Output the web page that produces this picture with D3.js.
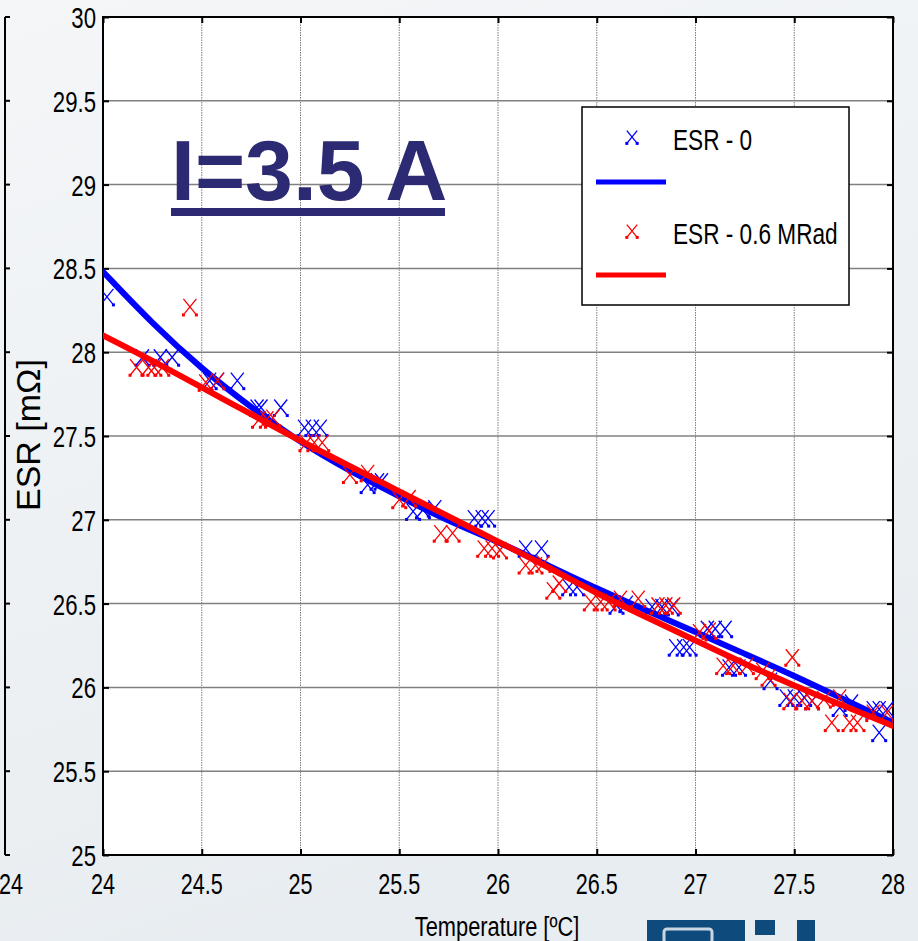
<!DOCTYPE html>
<html>
<head>
<meta charset="utf-8">
<script src="https://cdn.jsdelivr.net/npm/d3@7"></script>
<style>
  body { margin: 0; background: #eef2f5; }
  svg { display: block; }
</style>
</head>
<body>
<svg width="918" height="941"></svg>
<script>
// fitted curves (read at 0.25 degC steps)
const fitTemp  = [24, 24.25, 24.5, 24.75, 25, 25.25, 25.5, 25.75, 26, 26.25, 26.5, 26.75, 27, 27.25, 27.5, 27.75, 28];
const fitEsr0  = [28.48, 28.17, 27.90, 27.67, 27.46, 27.29, 27.14, 26.99, 26.87, 26.73, 26.59, 26.46, 26.33, 26.20, 26.07, 25.93, 25.79];
const fitEsr06 = [28.10, 27.95, 27.79, 27.63, 27.47, 27.32, 27.17, 27.02, 26.87, 26.72, 26.56, 26.42, 26.28, 26.14, 26.01, 25.89, 25.77];

// measured points, ESR - 0
const esr0Temp = [24.02, 24.20, 24.29, 24.35, 24.54, 24.58, 24.68, 24.78, 24.80, 24.90, 25.02, 25.06, 25.10,
  25.34, 25.39, 25.41, 25.57, 25.62, 25.68, 25.88, 25.92, 25.95, 26.14, 26.22, 26.36, 26.40, 26.60, 26.65,
  26.78, 26.83, 26.88, 26.90, 26.94, 26.97, 27.06, 27.10, 27.15, 27.17, 27.22, 27.38, 27.46, 27.50, 27.55,
  27.59, 27.73, 27.79, 27.90, 27.93, 27.97, 27.93];
const esr0Val = [28.33, 27.97, 27.97, 27.97, 27.83, 27.83, 27.83, 27.67, 27.67, 27.67, 27.55, 27.55, 27.55,
  27.21, 27.23, 27.23, 27.05, 27.06, 27.07, 27.01, 27.01, 27.01, 26.83, 26.83, 26.60, 26.60, 26.49, 26.50,
  26.48, 26.48, 26.48, 26.24, 26.24, 26.24, 26.35, 26.35, 26.35, 26.12, 26.12, 26.04, 25.94, 25.94, 25.94,
  25.92, 25.88, 25.91, 25.87, 25.87, 25.87, 25.73];

// measured points, ESR - 0.6 MRad
const esr06Temp = [24.17, 24.23, 24.26, 24.30, 24.44, 24.52, 24.58, 24.79, 24.83, 24.86, 25.03, 25.07, 25.11,
  25.25, 25.34, 25.50, 25.55, 25.71, 25.77, 25.93, 25.97, 26.01, 26.14, 26.19, 26.23, 26.28, 26.31, 26.47,
  26.52, 26.56, 26.62, 26.71, 26.81, 26.85, 26.89, 27.02, 27.07, 27.14, 27.19, 27.26, 27.34, 27.37, 27.49,
  27.48, 27.54, 27.59, 27.65, 27.69, 27.73, 27.78, 27.82, 27.90, 27.97];
const esr06Val = [27.91, 27.91, 27.91, 27.91, 28.27, 27.82, 27.83, 27.60, 27.60, 27.61, 27.46, 27.46, 27.46,
  27.27, 27.28, 27.12, 27.13, 26.92, 26.92, 26.83, 26.83, 26.82, 26.73, 26.73, 26.74, 26.58, 26.62, 26.51,
  26.51, 26.51, 26.53, 26.53, 26.49, 26.49, 26.49, 26.33, 26.34, 26.13, 26.13, 26.13, 26.10, 26.06, 26.18,
  25.92, 25.92, 25.92, 25.93, 25.79, 25.94, 25.79, 25.79, 25.85, 25.85];

const xTicks = [24, 24.5, 25, 25.5, 26, 26.5, 27, 27.5, 28];
const yTicks = [25, 25.5, 26, 26.5, 27, 27.5, 28, 28.5, 29, 29.5, 30];

const svg = d3.select('svg');
const sans = '"Liberation Sans", Arial, sans-serif';

const pL = 103, pR = 893, pT = 17, pB = 855;

// narrow text: regular sans squeezed horizontally
function ntext(sel, tx, ty, anchor, size, str, sx = 0.78) {
  return sel.append('text').attr('transform', `translate(${tx},${ty}) scale(${sx},1)`)
    .attr('text-anchor', anchor).attr('font-family', sans).attr('font-size', size)
    .attr('fill', '#000').text(str);
}

// slide background
const defs = svg.append('defs');
const grad = defs.append('linearGradient').attr('id', 'bg').attr('x1', 0).attr('y1', 0).attr('x2', 0.3).attr('y2', 1);
grad.append('stop').attr('offset', '0%').attr('stop-color', '#f4f6f8');
grad.append('stop').attr('offset', '100%').attr('stop-color', '#e8edf1');
svg.append('rect').attr('width', 918).attr('height', 941).attr('fill', 'url(#bg)');

const x = d3.scaleLinear().domain([24, 28]).range([pL, pR]);
const y = d3.scaleLinear().domain([25, 30]).range([pB, pT]);

// neighbouring chart edge on the left
svg.append('line').attr('x1', 5).attr('x2', 5).attr('y1', pT).attr('y2', pB)
  .attr('stroke', '#000').attr('stroke-width', 2);
svg.append('g').selectAll('line').data(yTicks).join('line')
  .attr('x1', 5).attr('x2', 10).attr('y1', d => y(d)).attr('y2', d => y(d))
  .attr('stroke', '#000').attr('stroke-width', 2);
ntext(svg, 11, 894, 'middle', 30, '24', 0.72);

// plot area
svg.append('rect').attr('x', pL).attr('y', pT).attr('width', pR - pL).attr('height', pB - pT)
  .attr('fill', '#fff');

// grid
svg.append('g').selectAll('line').data(yTicks.slice(1, -1)).join('line')
  .attr('x1', pL).attr('x2', pR).attr('y1', d => y(d)).attr('y2', d => y(d))
  .attr('stroke', '#808080').attr('stroke-width', 1.5);
svg.append('g').selectAll('line').data(xTicks.slice(1, -1)).join('line')
  .attr('y1', pT).attr('y2', pB).attr('x1', d => x(d)).attr('x2', d => x(d))
  .attr('stroke', '#808080').attr('stroke-width', 1).attr('stroke-dasharray', '1.5,1');

// axes (ticks inward, all four sides)
const axL = svg.append('g').attr('transform', `translate(${pL},0)`)
  .call(d3.axisRight(y).tickValues(yTicks).tickSize(6).tickFormat(''));
const axR = svg.append('g').attr('transform', `translate(${pR},0)`)
  .call(d3.axisLeft(y).tickValues(yTicks).tickSize(6).tickFormat(''));
const axB = svg.append('g').attr('transform', `translate(0,${pB})`)
  .call(d3.axisTop(x).tickValues(xTicks).tickSize(6).tickFormat(''));
const axT = svg.append('g').attr('transform', `translate(0,${pT})`)
  .call(d3.axisBottom(x).tickValues(xTicks).tickSize(6).tickFormat(''));
[axL, axR, axB, axT].forEach(a => {
  a.select('.domain').remove();
  a.selectAll('line').attr('stroke', '#000').attr('stroke-width', 2);
});
svg.append('rect').attr('x', pL).attr('y', pT).attr('width', pR - pL).attr('height', pB - pT)
  .attr('fill', 'none').attr('stroke', '#000').attr('stroke-width', 2);

// tick labels
const fmt = d3.format('~g');
yTicks.forEach(d => ntext(svg, 96, y(d) + 11, 'end', 30, fmt(d), 0.74));
xTicks.forEach(d => ntext(svg, x(d), 894, 'middle', 30, fmt(d), 0.72));

// axis titles
ntext(svg, 497, 936, 'middle', 28, 'Temperature [ºC]');
svg.append('text').attr('transform', 'translate(40,435) rotate(-90)').attr('text-anchor', 'middle')
  .attr('font-family', sans).attr('font-size', 34).text('ESR [mΩ]');

// x marker with small feet
function marker(g, cx, cy, col, s) {
  const w = 6.5 * s, h = 8 * s;
  g.append('path')
    .attr('d', `M${cx - w},${cy - h}L${cx + w},${cy + h}M${cx + w},${cy - h}L${cx - w},${cy + h}`)
    .attr('stroke', col).attr('stroke-width', 1.3).attr('fill', 'none');
  g.append('rect').attr('x', cx - w - 1.5).attr('y', cy + h - 1.5).attr('width', 3).attr('height', 3).attr('fill', col);
  g.append('rect').attr('x', cx + w - 1.5).attr('y', cy + h - 1.5).attr('width', 3).attr('height', 3).attr('fill', col);
}

const line = d3.line().x(d => x(d[0])).y(d => y(d[1])).curve(d3.curveBasis);

const clip = defs.append('clipPath').attr('id', 'plot');
clip.append('rect').attr('x', pL).attr('y', pT).attr('width', pR - pL).attr('height', pB - pT);
const plot = svg.append('g').attr('clip-path', 'url(#plot)');

const g0 = plot.append('g');
esr0Temp.forEach((t, i) => marker(g0, x(t), y(esr0Val[i]), '#0000ff', 1));
plot.append('path').datum(fitTemp.map((t, i) => [t, fitEsr0[i]])).attr('d', line)
  .attr('fill', 'none').attr('stroke', '#0000ff').attr('stroke-width', 6).attr('stroke-linecap', 'round');

const g1 = plot.append('g');
esr06Temp.forEach((t, i) => marker(g1, x(t), y(esr06Val[i]), '#ff0000', 1));
plot.append('path').datum(fitTemp.map((t, i) => [t, fitEsr06[i]])).attr('d', line)
  .attr('fill', 'none').attr('stroke', '#ff0000').attr('stroke-width', 6).attr('stroke-linecap', 'round');

// title
svg.append('text').attr('x', 171).attr('y', 200)
  .attr('font-family', sans).attr('font-weight', 'bold')
  .attr('font-size', 86).attr('fill', '#2b2a72').text('I=3.5 A');
svg.append('rect').attr('x', 171).attr('y', 208).attr('width', 274).attr('height', 8).attr('fill', '#2b2a72');

// legend
const lg = svg.append('g');
lg.append('rect').attr('x', 582).attr('y', 107).attr('width', 267).attr('height', 198)
  .attr('fill', '#fff').attr('stroke', '#000').attr('stroke-width', 1.5);
const legendItems = [
  { label: 'ESR - 0', col: '#0000ff', my: 137, ly: 182 },
  { label: 'ESR - 0.6 MRad', col: '#ff0000', my: 231, ly: 275 }
];
legendItems.forEach(d => {
  marker(lg, 632, d.my, d.col, 0.8);
  ntext(lg, 673, d.my + 13, 'start', 29, d.label);
  lg.append('line').attr('x1', 596).attr('x2', 666).attr('y1', d.ly).attr('y2', d.ly)
    .attr('stroke', d.col).attr('stroke-width', 5);
});

// logo corner
const logo = svg.append('g').attr('fill', '#0e4a7c');
logo.append('rect').attr('x', 647).attr('y', 920).attr('width', 98).attr('height', 21);
logo.append('rect').attr('x', 664).attr('y', 929).attr('width', 48).attr('height', 14).attr('rx', 3)
  .attr('stroke', '#c9d6e2').attr('stroke-width', 3);
logo.append('rect').attr('x', 755).attr('y', 920).attr('width', 20).attr('height', 15);
logo.append('rect').attr('x', 797).attr('y', 920).attr('width', 18).attr('height', 21);
</script>
</body>
</html>
